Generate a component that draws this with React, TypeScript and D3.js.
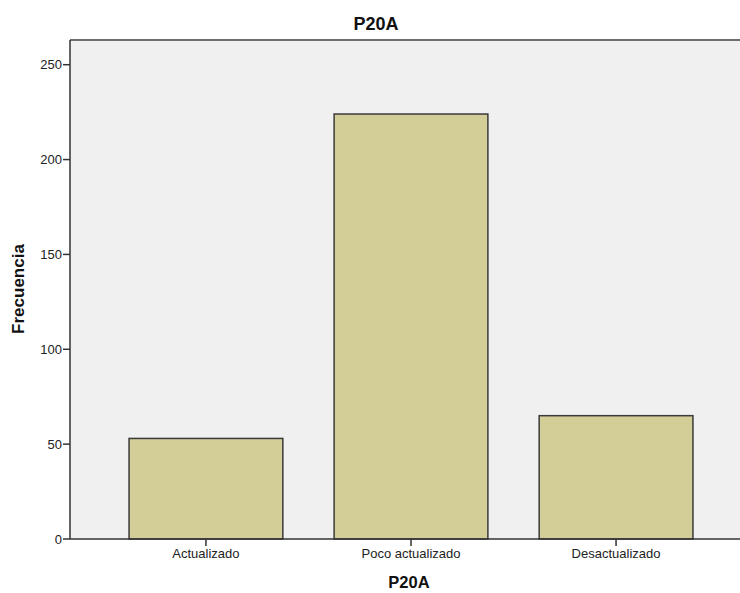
import React from "react";
import * as d3 from "d3";

const categories = ["Actualizado", "Poco actualizado", "Desactualizado"];
const frequencies = [53, 224, 65];
const yTicks = [0, 50, 100, 150, 200, 250];
const chartTitle = "P20A";
const xTitle = "P20A";
const yTitle = "Frecuencia";

const W = 740;
const H = 593;
const FONT = "'Liberation Sans', Arial, sans-serif";

export default function App() {
  const plotLeft = 70;
  const plotTop = 40;
  const plotBottom = 539;
  const plotRight = W;

  const x = d3
    .scaleBand<string>()
    .domain(categories)
    .range([plotLeft, 752])
    .paddingInner(0.25)
    .paddingOuter(0.288);

  const y = d3.scaleLinear().domain([0, 250]).range([plotBottom, 64.7]);

  return (
    <svg
      width={W}
      height={H}
      style={{ position: "absolute", left: 0, top: 0, display: "block" }}
      fontFamily={FONT}
    >
      <rect x={0} y={0} width={W} height={H} fill="#ffffff" />
      <rect
        x={plotLeft}
        y={plotTop}
        width={plotRight - plotLeft}
        height={plotBottom - plotTop}
        fill="#f0f0f0"
      />
      <line x1={plotLeft} x2={plotRight} y1={plotTop} y2={plotTop} stroke="#6e6e6e" strokeWidth={2} />
      {categories.map((c, i) => (
        <rect
          key={c}
          x={x(c)}
          y={y(frequencies[i])}
          width={x.bandwidth()}
          height={y(0) - y(frequencies[i])}
          fill="#d3ce98"
          stroke="#3a3a3a"
          strokeWidth={1.5}
        />
      ))}
      <line x1={plotLeft} x2={plotLeft} y1={plotTop} y2={plotBottom} stroke="#333" strokeWidth={1.5} />
      <line x1={plotLeft} x2={plotRight} y1={plotBottom} y2={plotBottom} stroke="#333" strokeWidth={1.5} />
      {yTicks.map((t) => (
        <g key={t}>
          <line x1={plotLeft - 7} x2={plotLeft} y1={y(t)} y2={y(t)} stroke="#333" strokeWidth={1.5} />
          <text x={plotLeft - 8} y={y(t)} dy="0.35em" textAnchor="end" fontSize={13} fill="#222">
            {t}
          </text>
        </g>
      ))}
      {categories.map((c) => {
        const cx = (x(c) as number) + x.bandwidth() / 2;
        return (
          <g key={c}>
            <line x1={cx} x2={cx} y1={plotBottom} y2={plotBottom + 7} stroke="#333" strokeWidth={1.5} />
            <text x={cx} y={558} textAnchor="middle" fontSize={13} fill="#222">
              {c}
            </text>
          </g>
        );
      })}
      <text x={376} y={30} textAnchor="middle" fontSize={18} fontWeight="bold" fill="#111">
        {chartTitle}
      </text>
      <text x={409} y={588} textAnchor="middle" fontSize={16.5} fontWeight="bold" fill="#111">
        {xTitle}
      </text>
      <text
        transform={`translate(24, 289) rotate(-90)`}
        textAnchor="middle"
        fontSize={17}
        fontWeight="bold"
        fill="#111"
      >
        {yTitle}
      </text>
    </svg>
  );
}
